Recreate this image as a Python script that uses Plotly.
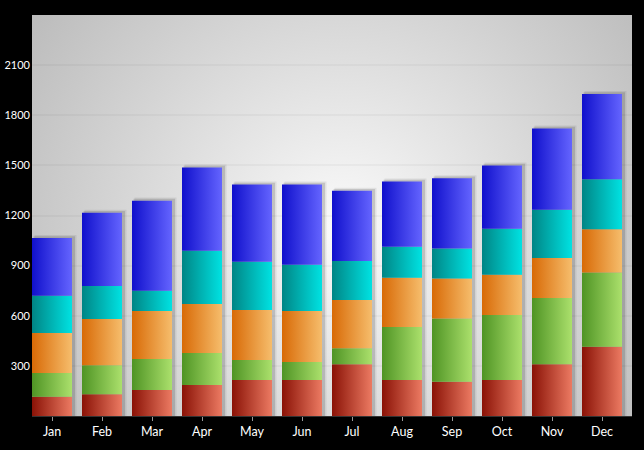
import base64
import plotly.graph_objects as go

months = ["Jan", "Feb", "Mar", "Apr", "May", "Jun", "Jul", "Aug", "Sep", "Oct", "Nov", "Dec"]
red = [115, 130, 155, 185, 215, 215, 310, 215, 205, 215, 310, 415]
green = [142, 174, 186, 192, 120, 108, 96, 318, 378, 390, 396, 444]
orange = [240, 276, 288, 294, 300, 306, 288, 294, 240, 240, 240, 258]
teal = [222, 198, 120, 318, 288, 276, 234, 186, 180, 276, 288, 300]
blue = [346, 438, 540, 498, 462, 480, 420, 390, 420, 378, 486, 510]
y_ticks = [300, 600, 900, 1200, 1500, 1800, 2100]

series = [
    (red, "#8a1206", "#ec7a62"),
    (green, "#4f9424", "#abe06c"),
    (orange, "#d86a06", "#f6bd6c"),
    (teal, "#008585", "#00e2e2"),
    (blue, "#1010cc", "#6464ff"),
]

X_RANGE = [-0.4, 11.6]
Y_RANGE = [0, 2400]
HW = 0.4

fig = go.Figure()

totals = [sum(s[0][i] for s in series) for i in range(len(months))]

# soft shadows behind each stack
for i, t in enumerate(totals):
    for dx0, dx1, dy, col in [(0.05, 0.09, 18, "rgba(0,0,0,0.07)"),
                              (0.03, 0.06, 11, "rgba(0,0,0,0.13)")]:
        fig.add_trace(go.Scatter(
            x=[i - HW + dx0, i + HW + dx1, i + HW + dx1, i - HW + dx0, i - HW + dx0],
            y=[0, 0, t + dy, t + dy, 0],
            mode="lines", line=dict(width=0), fill="toself", fillcolor=col,
            hoverinfo="skip", showlegend=False))

# stacked gradient bars
for i in range(len(months)):
    base = 0
    for vals, dark, light in series:
        top = base + vals[i]
        fig.add_trace(go.Scatter(
            x=[i - HW, i + HW, i + HW, i - HW, i - HW],
            y=[base, base, top, top, base],
            mode="lines", line=dict(width=0), fill="toself",
            fillgradient=dict(type="horizontal", colorscale=[[0, dark], [1, light]]),
            hoverinfo="skip", showlegend=False))
        base = top

svg = ('<svg xmlns="http://www.w3.org/2000/svg" width="600" height="400" viewBox="0 0 600 400" '
       'preserveAspectRatio="none"><defs><radialGradient id="g" cx="310" cy="215" r="375" '
       'gradientUnits="userSpaceOnUse"><stop offset="0" stop-color="#fbfbfb"/>'
       '<stop offset="1" stop-color="#bcbcbc"/></radialGradient></defs>'
       '<rect width="600" height="400" fill="url(#g)"/></svg>')
src = "data:image/svg+xml;base64," + base64.b64encode(svg.encode()).decode()

fig.update_layout(
    width=644, height=450,
    margin=dict(l=32, r=12, t=15, b=34),
    paper_bgcolor="black",
    plot_bgcolor="rgba(0,0,0,0)",
    font=dict(family="Lato, Open Sans, sans-serif", color="white"),
    images=[dict(source=src, xref="paper", yref="paper", x=0, y=1, sizex=1, sizey=1,
                 xanchor="left", yanchor="top", sizing="stretch", layer="below")],
    xaxis=dict(range=X_RANGE, tickvals=list(range(len(months))), ticktext=months,
               showgrid=False, zeroline=False, showline=True, linecolor="#333333", linewidth=1,
               ticks="outside", ticklen=4, tickcolor="#999999", tickwidth=1,
               tickfont=dict(size=12.5, color="white"), automargin=False, fixedrange=True),
    yaxis=dict(range=Y_RANGE, tickvals=y_ticks, showgrid=True,
               gridcolor="rgba(0,0,0,0.03)", gridwidth=2, zeroline=False,
               showline=False, ticks="", tickfont=dict(size=11, color="white"),
               ticklabelstandoff=1, automargin=False, fixedrange=True),
    showlegend=False,
)

fig.write_html("out.html", config={"displayModeBar": False},
               post_script="document.body.style.margin='0';document.body.style.background='black';")
